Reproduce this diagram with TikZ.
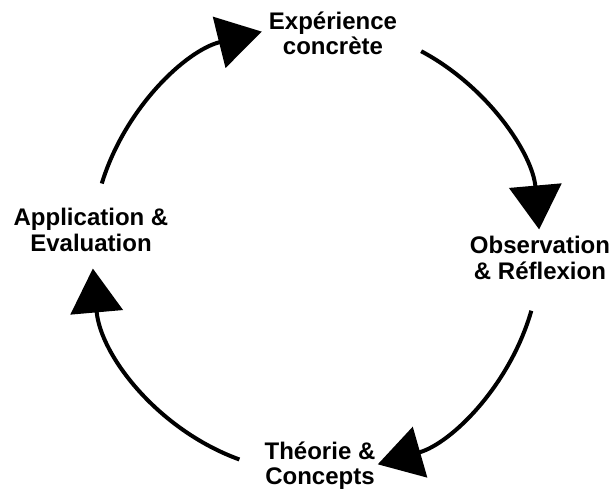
\documentclass[tikz,border=0pt]{standalone}
\usepackage{fontspec}
\setmainfont{Liberation Sans}
\usetikzlibrary{arrows.meta}
\newcommand{\drawcyclearc}[2]{
	\draw[cyclearc] ($(c)+(#1:224)$) arc[start angle=#1, end angle=#2, radius=224];
}
\usetikzlibrary{calc}
\tikzset{
	stage/.style={align=center, font=\fontsize{18}{19}\selectfont\bfseries},
	cyclearc/.style={line width=3pt, -{Triangle[length=33pt, width=39pt]}}
}
\begin{document}
\begin{tikzpicture}[x=0.75pt, y=0.75pt]
		\useasboundingbox (0,0) rectangle (613,498);
		\coordinate (c) at (316,249);

		% stages
		\node[stage] (exp) at (333,465) {Expérience\\concrète};
		\node[stage] (obs) at (540,240) {Observation\\\& Réflexion};
		\node[stage] (theo) at (320,32) {Théorie \&\\Concepts};
		\node[stage] (app) at (91,268) {Application \&\\Evaluation};

		% cycle arrows
		\drawcyclearc{62}{5}
		\drawcyclearc{-16}{-74}
		\drawcyclearc{-110}{-175}
		\drawcyclearc{163}{104}
	\end{tikzpicture}
\end{document}
